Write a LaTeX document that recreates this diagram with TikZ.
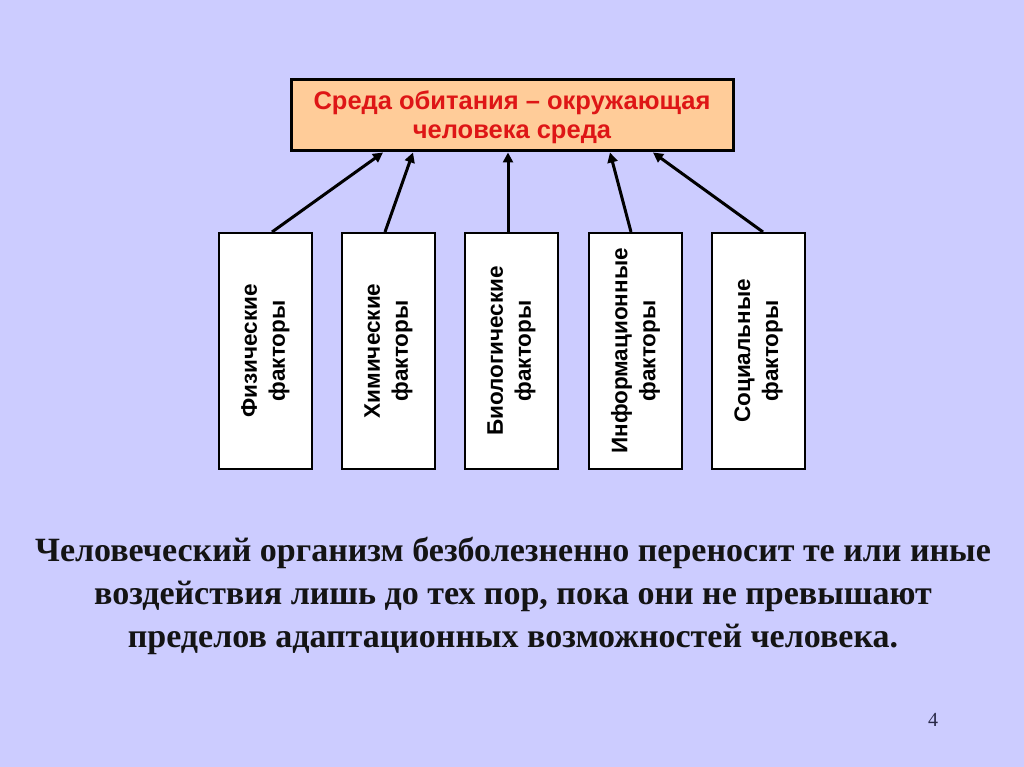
\documentclass[tikz,border=0pt]{standalone}
\usepackage{fontspec}
\setmainfont{Liberation Serif}
\setsansfont{Liberation Sans}
\usetikzlibrary{arrows.meta,calc}
\definecolor{bg}{RGB}{204,204,255}
\definecolor{peach}{RGB}{255,204,153}
\definecolor{redtxt}{RGB}{222,22,22}
\definecolor{numcol}{RGB}{40,40,70}
\tikzset{
  topbox/.style={draw=black,line width=3pt,fill=peach,minimum width=442pt,minimum height=71pt,inner sep=0pt},
  toptext/.style={align=center,font=\sffamily\bfseries\fontsize{25.5}{28.5}\selectfont,text=redtxt,inner sep=0pt},
  factorbox/.style={draw=black,line width=2pt,fill=white,minimum width=93pt,minimum height=236pt,inner sep=0pt},
  factortext/.style={rotate=90,align=center,font=\sffamily\bfseries\fontsize{22.5}{28}\selectfont,inner sep=0pt},
  conn/.style={line width=3pt,-{Triangle[length=10pt,width=10pt]}},
  bodytext/.style={align=center,font=\rmfamily\bfseries\fontsize{34}{43}\selectfont,text=black!92,inner sep=0pt}
}
\begin{document}
\begin{tikzpicture}[x=1pt,y=-1pt]
\fill[bg] (0,0) rectangle (1024,767);
\useasboundingbox (0,0) rectangle (1024,767);
\node[topbox] (top) at (512,115.5) {};
\node[toptext] (toplabel) at ([yshift=-2pt]top.center) {Среда обитания – окружающая\\человека среда};
\node[factorbox] (f1) at (265.5,351) {};
\node[factorbox] (f2) at (388.5,351) {};
\node[factorbox] (f3) at (511.5,351) {};
\node[factorbox] (f4) at (635.5,351) {};
\node[factorbox] (f5) at (758.5,351) {};
\node[factortext] (t1) at (f1.center) {Физические\\факторы};
\node[factortext] (t2) at (f2.center) {Химические\\факторы};
\node[factortext] (t3) at (f3.center) {Биологические\\факторы};
\node[factortext] (t4) at (f4.center) {Информационные\\факторы};
\node[factortext] (t5) at (f5.center) {Социальные\\факторы};
\draw[conn] ([xshift=6.5pt]f1.north) -- ([xshift=-129pt]top.south);
\draw[conn] ([xshift=-3.5pt]f2.north) -- ([xshift=-99pt]top.south);
\draw[conn] ([xshift=-3.5pt]f3.north) -- ([xshift=-4pt]top.south);
\draw[conn] ([xshift=-4.5pt]f4.north) -- ([xshift=98pt]top.south);
\draw[conn] ([xshift=4.5pt]f5.north) -- ([xshift=141pt]top.south);
\node[bodytext] (body) at (513,596) {Человеческий организм безболезненно переносит те или иные\\воздействия лишь до тех пор, пока они не превышают\\пределов адаптационных возможностей человека.};
\node[font=\rmfamily\fontsize{20}{22}\selectfont,text=numcol,inner sep=0pt] (num) at (933,720) {4};
\end{tikzpicture}
\end{document}
